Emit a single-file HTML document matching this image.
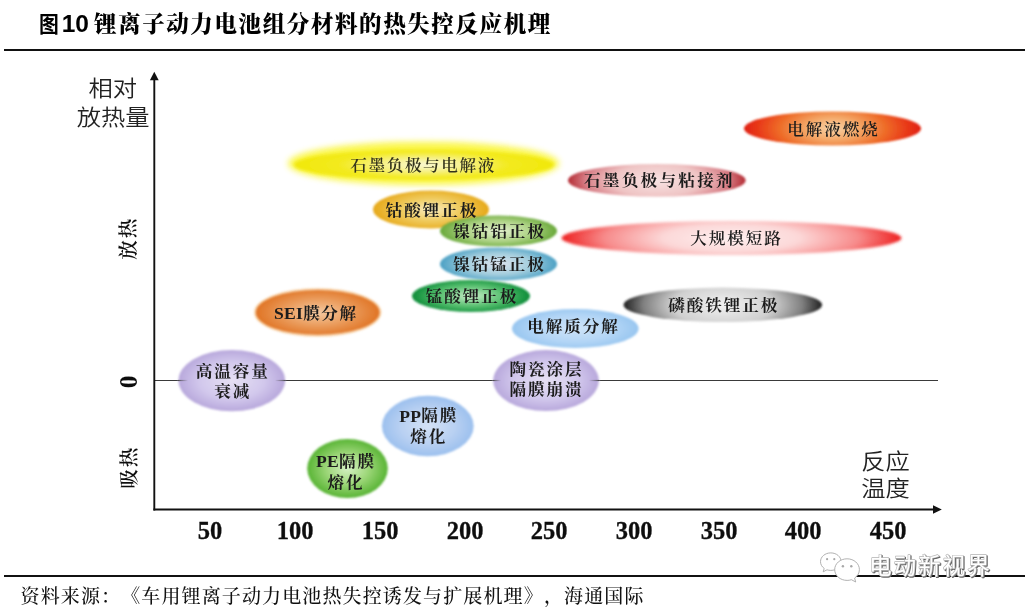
<!DOCTYPE html>
<html lang="zh-CN">
<head>
<meta charset="utf-8">
<title>图10 锂离子动力电池组分材料的热失控反应机理</title>
<style>
html,body{margin:0;padding:0;background:#fff;}
body{width:1025px;height:611px;overflow:hidden;position:relative;font-family:"Liberation Serif", "Noto Serif CJK SC", serif;}
.title{position:absolute;left:40px;top:8px;height:32px;line-height:32px;font-size:22.5px;letter-spacing:1.6px;font-weight:900;color:#000;white-space:nowrap;font-family:"Liberation Serif", "Noto Serif CJK SC", serif;}
.title .fig{font-family:"Liberation Sans", "Noto Sans CJK SC", sans-serif;font-weight:700;font-size:22px;letter-spacing:0;display:inline-block;width:19.5px;transform:scaleX(0.9);transform-origin:0 50%;position:relative;top:-0.3px;left:-0.6px;}
.title .num{font-family:"Liberation Sans",sans-serif;font-weight:700;font-size:24.5px;letter-spacing:0;margin-left:2.2px;margin-right:5px;}
.rule{position:absolute;left:4px;right:0;height:2px;background:#111;}
.rule.top{top:49px;height:2px;}
.rule.bot{top:575px;height:2px;}
.src{position:absolute;left:20.5px;top:583.3px;height:28px;line-height:28px;font-size:19px;letter-spacing:1.13px;font-weight:500;color:#111;white-space:nowrap;font-family:"Liberation Serif", "Noto Serif CJK SC", serif;text-spacing-trim:space-all;font-kerning:none;}
.src i{font-style:normal;display:inline-block;width:20.13px;}
svg{position:absolute;left:0;top:0;}
.lab text{font-family:"Liberation Serif", "Noto Serif CJK SC", serif;font-weight:700;text-anchor:middle;dominant-baseline:central;}
.tick text{font-family:"Liberation Serif",serif;font-weight:700;font-size:24.5px;text-anchor:middle;dominant-baseline:central;fill:#111;stroke:#111;stroke-width:0.3px;}
.ax text{font-family:"Liberation Sans", "Noto Sans CJK SC", sans-serif;font-weight:350;font-size:24.3px;text-anchor:middle;dominant-baseline:central;fill:#222;}
.rot text{font-family:"Liberation Serif", "Noto Serif CJK SC", serif;font-size:19.6px;font-weight:600;letter-spacing:1.9px;text-anchor:middle;dominant-baseline:central;fill:#111;}
.wm text{font-family:"Liberation Sans", "Noto Sans CJK SC", sans-serif;font-size:22.3px;font-weight:400;letter-spacing:2.2px;}
</style>
</head>
<body>
<div class="title"><span class="fig">图</span><span class="num">10</span>锂离子动力电池组分材料的热失控反应机理</div>
<div class="rule top"></div>
<div class="rule bot"></div>
<svg width="1025" height="611" viewBox="0 0 1025 611">
<defs>
<filter id="bglow" x="-20%" y="-100%" width="140%" height="300%"><feGaussianBlur stdDeviation="3.2"/></filter>
<linearGradient id="fadeL" gradientUnits="userSpaceOnUse" x1="178" y1="0" x2="188" y2="0"><stop offset="0" stop-color="#444" stop-opacity="0.85"/><stop offset="1" stop-color="#444" stop-opacity="0"/></linearGradient>
<linearGradient id="fadeR" gradientUnits="userSpaceOnUse" x1="275" y1="0" x2="285.5" y2="0"><stop offset="0" stop-color="#444" stop-opacity="0"/><stop offset="1" stop-color="#444" stop-opacity="0.85"/></linearGradient>
<linearGradient id="fadeL2" gradientUnits="userSpaceOnUse" x1="493" y1="0" x2="501" y2="0"><stop offset="0" stop-color="#444" stop-opacity="0.85"/><stop offset="1" stop-color="#444" stop-opacity="0"/></linearGradient>
<linearGradient id="fadeR2" gradientUnits="userSpaceOnUse" x1="589" y1="0" x2="599" y2="0"><stop offset="0" stop-color="#444" stop-opacity="0"/><stop offset="1" stop-color="#444" stop-opacity="0.85"/></linearGradient>
<filter id="wmsh" x="-5%" y="-20%" width="110%" height="140%"><feMorphology in="SourceAlpha" operator="erode" radius="0.3" result="e"/><feOffset in="e" dx="1" dy="1" result="o"/><feFlood flood-color="#666"/><feComposite in2="o" operator="in" result="s"/><feMerge><feMergeNode in="s"/><feMergeNode in="SourceGraphic"/></feMerge></filter>
<filter id="soft" x="-5%" y="-5%" width="110%" height="110%"><feGaussianBlur stdDeviation="0.45"/></filter>
<radialGradient id="g-yel" cx="0.5" cy="0.5" r="0.5" gradientTransform="translate(0.5 0.5) scale(1 1.3) translate(-0.5 -0.5)"><stop offset="0" stop-color="#faf8d4"/><stop offset="0.3" stop-color="#f7f290"/><stop offset="0.65" stop-color="#f3ea20"/><stop offset="1" stop-color="#f1e80a"/></radialGradient>
<filter id="b-yel" x="-20%" y="-50%" width="140%" height="200%"><feGaussianBlur stdDeviation="1.8"/></filter>
<filter id="gl-yel" x="-20%" y="-100%" width="140%" height="300%"><feGaussianBlur stdDeviation="3"/></filter>
<radialGradient id="g-co" cx="0.5" cy="0.5" r="0.5" gradientTransform="translate(0.5 0.5) scale(1 1.15) translate(-0.5 -0.5)"><stop offset="0" stop-color="#f8ecc0"/><stop offset="0.5" stop-color="#f0cc60"/><stop offset="1" stop-color="#e6a818"/></radialGradient>
<filter id="b-co" x="-20%" y="-50%" width="140%" height="200%"><feGaussianBlur stdDeviation="0.8"/></filter>
<radialGradient id="g-nca" cx="0.5" cy="0.5" r="0.5" gradientTransform="translate(0.5 0.5) scale(1 1.15) translate(-0.5 -0.5)"><stop offset="0" stop-color="#e4f0d0"/><stop offset="0.55" stop-color="#b0d488"/><stop offset="1" stop-color="#68a838"/></radialGradient>
<filter id="b-nca" x="-20%" y="-50%" width="140%" height="200%"><feGaussianBlur stdDeviation="0.8"/></filter>
<radialGradient id="g-ncm" cx="0.5" cy="0.5" r="0.5" gradientTransform="translate(0.5 0.5) scale(1 1.15) translate(-0.5 -0.5)"><stop offset="0" stop-color="#dde4ee"/><stop offset="0.55" stop-color="#a4cede"/><stop offset="1" stop-color="#4aa0c4"/></radialGradient>
<filter id="b-ncm" x="-20%" y="-50%" width="140%" height="200%"><feGaussianBlur stdDeviation="0.8"/></filter>
<radialGradient id="g-lmo" cx="0.5" cy="0.5" r="0.5" gradientTransform="translate(0.5 0.5) scale(1 1.15) translate(-0.5 -0.5)"><stop offset="0" stop-color="#c8ecc8"/><stop offset="0.55" stop-color="#58c070"/><stop offset="1" stop-color="#0c8c38"/></radialGradient>
<filter id="b-lmo" x="-20%" y="-50%" width="140%" height="200%"><feGaussianBlur stdDeviation="0.8"/></filter>
<radialGradient id="g-sei" cx="0.5" cy="0.5" r="0.5" gradientTransform="translate(0.5 0.5) scale(1 1.1) translate(-0.5 -0.5)"><stop offset="0" stop-color="#f4caa2"/><stop offset="0.45" stop-color="#eca468"/><stop offset="1" stop-color="#e07424"/></radialGradient>
<filter id="b-sei" x="-20%" y="-50%" width="140%" height="200%"><feGaussianBlur stdDeviation="0.8"/></filter>
<filter id="gl-sei" x="-20%" y="-100%" width="140%" height="300%"><feGaussianBlur stdDeviation="1"/></filter>
<radialGradient id="g-ely" cx="0.5" cy="0.5" r="0.5" gradientTransform="translate(0.5 0.5) scale(1 1.1) translate(-0.5 -0.5)"><stop offset="0" stop-color="#cfe4f8"/><stop offset="0.6" stop-color="#b4d6f6"/><stop offset="1" stop-color="#98c6f0"/></radialGradient>
<filter id="b-ely" x="-20%" y="-50%" width="140%" height="200%"><feGaussianBlur stdDeviation="1.2"/></filter>
<radialGradient id="g-cap" cx="0.5" cy="0.5" r="0.5"><stop offset="0" stop-color="#e6e0f4"/><stop offset="0.6" stop-color="#d2c8ec"/><stop offset="1" stop-color="#b8a8dc"/></radialGradient>
<filter id="b-cap" x="-20%" y="-50%" width="140%" height="200%"><feGaussianBlur stdDeviation="1.2"/></filter>
<radialGradient id="g-cer" cx="0.5" cy="0.5" r="0.5"><stop offset="0" stop-color="#e6e0f4"/><stop offset="0.6" stop-color="#d2c8ec"/><stop offset="1" stop-color="#b8a8dc"/></radialGradient>
<filter id="b-cer" x="-20%" y="-50%" width="140%" height="200%"><feGaussianBlur stdDeviation="1.2"/></filter>
<radialGradient id="g-pp" cx="0.5" cy="0.5" r="0.5"><stop offset="0" stop-color="#d4e2f6"/><stop offset="0.6" stop-color="#b8d0f2"/><stop offset="1" stop-color="#9cc0ee"/></radialGradient>
<filter id="b-pp" x="-20%" y="-50%" width="140%" height="200%"><feGaussianBlur stdDeviation="1.2"/></filter>
<radialGradient id="g-pe" cx="0.5" cy="0.5" r="0.5"><stop offset="0" stop-color="#d4f0c4"/><stop offset="0.5" stop-color="#a0d87c"/><stop offset="1" stop-color="#58b434"/></radialGradient>
<filter id="b-pe" x="-20%" y="-50%" width="140%" height="200%"><feGaussianBlur stdDeviation="1.2"/></filter>
<radialGradient id="g-burn" cx="0.5" cy="0.5" r="0.5" gradientTransform="translate(0.5 0.5) scale(1 2.2) translate(-0.5 -0.5)"><stop offset="0" stop-color="#f8d4a8"/><stop offset="0.3" stop-color="#f4a868"/><stop offset="0.6" stop-color="#ee6c28"/><stop offset="0.85" stop-color="#e83818"/><stop offset="1" stop-color="#e02010"/></radialGradient>
<filter id="b-burn" x="-20%" y="-50%" width="140%" height="200%"><feGaussianBlur stdDeviation="0.8"/></filter>
<radialGradient id="g-bind" cx="0.5" cy="0.5" r="0.5" gradientTransform="translate(0.5 0.5) scale(1 2) translate(-0.5 -0.5)"><stop offset="0" stop-color="#f8e4e4"/><stop offset="0.5" stop-color="#efc4c4"/><stop offset="0.8" stop-color="#d88088"/><stop offset="1" stop-color="#b42c34"/></radialGradient>
<filter id="b-bind" x="-20%" y="-50%" width="140%" height="200%"><feGaussianBlur stdDeviation="0.9"/></filter>
<radialGradient id="g-short" cx="0.5" cy="0.5" r="0.5" gradientTransform="translate(0.5 0.5) scale(1 2) translate(-0.5 -0.5)"><stop offset="0" stop-color="#fef0f0"/><stop offset="0.4" stop-color="#fcd8d8"/><stop offset="0.75" stop-color="#f78a8a"/><stop offset="1" stop-color="#ee2020"/></radialGradient>
<filter id="b-short" x="-20%" y="-50%" width="140%" height="200%"><feGaussianBlur stdDeviation="1.5"/></filter>
<radialGradient id="g-lfp" cx="0.5" cy="0.5" r="0.5" gradientTransform="translate(0.5 0.5) scale(1 2.4) translate(-0.5 -0.5)"><stop offset="0" stop-color="#f2f2f2"/><stop offset="0.5" stop-color="#d0d0d0"/><stop offset="0.8" stop-color="#808080"/><stop offset="1" stop-color="#202020"/></radialGradient>
<filter id="b-lfp" x="-20%" y="-50%" width="140%" height="200%"><feGaussianBlur stdDeviation="1.2"/></filter>
</defs>
<g class="shapes">
<line x1="154" y1="380.5" x2="938" y2="380.5" stroke="#3a3a3a" stroke-width="1.2"/>
<ellipse cx="423.5" cy="163.4" rx="135.5" ry="21.7" fill="#faf640" opacity="0.95" filter="url(#gl-yel)"/>
<ellipse cx="424" cy="164.7" rx="130" ry="15.2" fill="url(#g-yel)" filter="url(#b-yel)"/>
<ellipse cx="431" cy="209.5" rx="58" ry="19" fill="url(#g-co)" filter="url(#b-co)"/>
<ellipse cx="498.5" cy="231" rx="58.5" ry="15.5" fill="url(#g-nca)" filter="url(#b-nca)"/>
<ellipse cx="498.5" cy="264" rx="58.5" ry="16.5" fill="url(#g-ncm)" filter="url(#b-ncm)"/>
<ellipse cx="471" cy="296" rx="59" ry="16" fill="url(#g-lmo)" filter="url(#b-lmo)"/>
<ellipse cx="317.7" cy="312.4" rx="63.8" ry="24.4" fill="#f8d4ac" opacity="0.9" filter="url(#gl-sei)"/>
<ellipse cx="317.7" cy="312.4" rx="61.8" ry="22.4" fill="url(#g-sei)" filter="url(#b-sei)"/>
<ellipse cx="575.3" cy="328.5" rx="63.3" ry="19.5" fill="url(#g-ely)" filter="url(#b-ely)"/>
<ellipse cx="231.8" cy="380.6" rx="53.3" ry="30.7" fill="url(#g-cap)" filter="url(#b-cap)"/>
<ellipse cx="546" cy="380.6" rx="52.8" ry="30.5" fill="url(#g-cer)" filter="url(#b-cer)"/>
<ellipse cx="427.8" cy="426" rx="45.9" ry="30.2" fill="url(#g-pp)" filter="url(#b-pp)"/>
<ellipse cx="347.5" cy="468.5" rx="40.3" ry="29.6" fill="url(#g-pe)" filter="url(#b-pe)"/>
<ellipse cx="832.5" cy="128.5" rx="88.5" ry="17" fill="url(#g-burn)" filter="url(#b-burn)"/>
<ellipse cx="656.8" cy="180.4" rx="88.8" ry="16.4" fill="url(#g-bind)" filter="url(#b-bind)"/>
<ellipse cx="731.5" cy="238" rx="170" ry="17" fill="url(#g-short)" filter="url(#b-short)"/>
<ellipse cx="722.8" cy="304.8" rx="99.3" ry="17.2" fill="url(#g-lfp)" filter="url(#b-lfp)"/>
</g>
<g class="fade" stroke-width="1.2">
<line x1="178" y1="380.5" x2="188" y2="380.5" stroke="url(#fadeL)"/>
<line x1="275" y1="380.5" x2="285.5" y2="380.5" stroke="url(#fadeR)"/>
<line x1="493" y1="380.5" x2="501" y2="380.5" stroke="url(#fadeL2)"/>
<line x1="589" y1="380.5" x2="599" y2="380.5" stroke="url(#fadeR2)"/>
</g>
<g class="axes" stroke="#111" stroke-width="1.9" fill="none">
<line x1="154.3" y1="79" x2="154.3" y2="510.4"/>
<line x1="153.4" y1="509.5" x2="934" y2="509.5"/>
</g>
<polygon points="154.3,71.8 149.9,80.2 158.7,80.2" fill="#111"/>
<polygon points="941.8,509.5 933,505.3 933,513.7" fill="#111"/>
<g class="lab" filter="url(#soft)">
<text transform="translate(423.1 165.7) scale(1 0.93)" font-size="16.6" fill="#33331c" letter-spacing="1.6" style="font-weight:600">石墨负极与电解液</text>
<text transform="translate(431.95 210.5) scale(1 0.93)" font-size="16.6" fill="#1a1a1a" letter-spacing="1.9">钴酸锂正极</text>
<text transform="translate(499.45 232) scale(1 0.93)" font-size="16.6" fill="#1a1a1a" letter-spacing="1.9">镍钴铝正极</text>
<text transform="translate(499.45 265) scale(1 0.93)" font-size="16.6" fill="#1a1a1a" letter-spacing="1.9">镍钴锰正极</text>
<text transform="translate(471.95 297) scale(1 0.93)" font-size="16.6" fill="#1a1a1a" letter-spacing="1.9">锰酸锂正极</text>
<text transform="translate(315.8 313.4) scale(1 0.93)" font-size="16.6" fill="#1a1a1a" letter-spacing="1.6"><tspan letter-spacing="0.3" font-size="17.6">SEI</tspan>膜分解</text>
<text transform="translate(573.55 326.5) scale(1 0.93)" font-size="16.6" fill="#1a1a1a" letter-spacing="1.9">电解质分解</text>
<text transform="translate(232.75 372.2) scale(1 0.93)" font-size="16.6" fill="#1a1a1a" letter-spacing="1.9">高温容量</text>
<text transform="translate(232.75 392.2) scale(1 0.93)" font-size="16.6" fill="#1a1a1a" letter-spacing="1.9">衰减</text>
<text transform="translate(546.55 369.8) scale(1 0.93)" font-size="16.6" fill="#1a1a1a" letter-spacing="1.9">陶瓷涂层</text>
<text transform="translate(546.55 389.8) scale(1 0.93)" font-size="16.6" fill="#1a1a1a" letter-spacing="1.9">隔膜崩溃</text>
<text transform="translate(428.75 416.2) scale(1 0.93)" font-size="16.6" fill="#1a1a1a" letter-spacing="1.9"><tspan letter-spacing="0.3" font-size="17.6">PP</tspan>隔膜</text>
<text transform="translate(428.75 437.2) scale(1 0.93)" font-size="16.6" fill="#1a1a1a" letter-spacing="1.9">熔化</text>
<text transform="translate(345.95 461.3) scale(1 0.93)" font-size="16.6" fill="#1a1a1a" letter-spacing="1.9"><tspan letter-spacing="0.3" font-size="17.6">PE</tspan>隔膜</text>
<text transform="translate(345.95 482.3) scale(1 0.93)" font-size="16.6" fill="#1a1a1a" letter-spacing="1.9">熔化</text>
<text transform="translate(833.45 129.5) scale(1 0.93)" font-size="16.6" fill="#1a1a1a" letter-spacing="1.9" style="font-weight:600">电解液燃烧</text>
<text transform="translate(659.45 181) scale(1 0.93)" font-size="16.6" fill="#1a1a1a" letter-spacing="2.3">石墨负极与粘接剂</text>
<text transform="translate(736.45 239) scale(1 0.93)" font-size="16.6" fill="#1a1a1a" letter-spacing="1.9" style="font-weight:600">大规模短路</text>
<text transform="translate(723.75 305.8) scale(1 0.93)" font-size="16.6" fill="#1a1a1a" letter-spacing="1.9">磷酸铁锂正极</text>
</g>
<g class="tick" filter="url(#soft)"><text x="210" y="530.5">50</text><text x="295" y="530.5">100</text><text x="380" y="530.5">150</text><text x="465" y="530.5">200</text><text x="549" y="530.5">250</text><text x="634" y="530.5">300</text><text x="719" y="530.5">350</text><text x="803" y="530.5">400</text><text x="888" y="530.5">450</text></g>
<g class="ax" filter="url(#soft)">
<text transform="translate(112.8 88.5) scale(1 0.9)">相对</text>
<text transform="translate(113.2 117.2) scale(1 0.9)">放热量</text>
<text transform="translate(885.6 461) scale(1 0.9)">反应</text>
<text transform="translate(885.6 488.9) scale(1 0.9)">温度</text>
</g>
<g class="rot" filter="url(#soft)">
<text x="0" y="0" transform="translate(128.7,238.2) rotate(-90)">放热</text>
<text x="0" y="0" transform="translate(129.6,467.2) rotate(-90)">吸热</text>
<text x="0" y="0" transform="translate(128.6,381.8) rotate(-90)" style="font-family:'Liberation Serif',serif;font-weight:700;font-size:25.5px;letter-spacing:0">0</text>
</g>
<g class="wm">
<g fill="#fff" stroke="#a8a8a8" stroke-width="0.9" transform="translate(0.3,0.6)">
<path d="M830.5 552.3c-5.8 0-10.3 3.9-10.3 8.8 0 2.7 1.4 5.1 3.7 6.7l-1 3.4 3.8-2c1.2.4 2.5.6 3.8.6 5.8 0 10.3-3.9 10.3-8.7 0-4.900-4.500-8.800-10.300-8.800z"/>
<path d="M846.8 558.2c-6.900 0-12.400 4.800-12.400 10.800 0 6 5.500 10.800 12.400 10.800 1.500 0 3-.2 4.300-.7l4.300 2.300-1.100-3.900c2.900-2 4.800-5 4.800-8.500 0-6-5.500-10.800-12.300-10.800z"/>
</g>
<g fill="#a8a8a8" transform="translate(0.3,0.6)">
<circle cx="826.8" cy="558.6" r="1.1"/><circle cx="834" cy="558.6" r="1.1"/>
<circle cx="842.6" cy="565.6" r="1.2"/><circle cx="851" cy="565.6" r="1.2"/>
</g>
<text x="869.2" y="573.6" fill="#fff" stroke="#b4b4b4" stroke-width="1.3" stroke-linejoin="round" paint-order="stroke" filter="url(#wmsh)">电动新视界</text>
</g>
</svg>
<div class="src">资料来源<i>：</i><i>《</i>车用锂离子动力电池热失控诱发与扩展机理<i>》</i><i>，</i>海通国际</div>
</body>
</html>
